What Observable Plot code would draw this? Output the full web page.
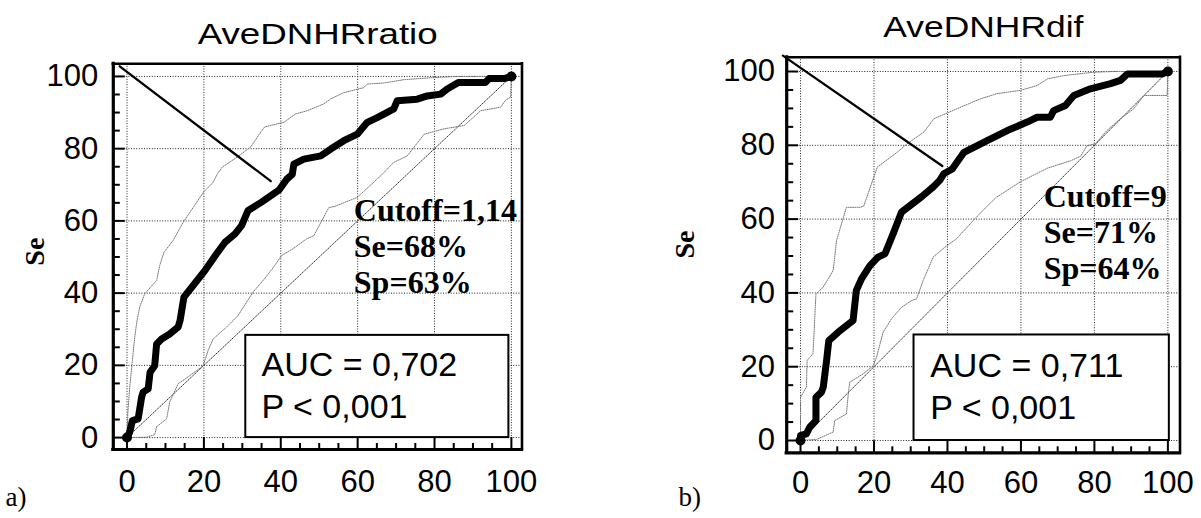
<!DOCTYPE html>
<html><head><meta charset="utf-8">
<script src="https://cdn.jsdelivr.net/npm/d3@7"></script>
<script src="https://cdn.jsdelivr.net/npm/@observablehq/plot@0.6"></script>
<style>
body{margin:0;background:#fff;}
#wrap{position:relative;width:1201px;height:518px;overflow:hidden;background:#fff;}
#wrap svg{position:absolute;top:0;overflow:visible;}
</style></head>
<body><div id="wrap"></div>
<script>
// ---------- data ----------
const titles = ["AveDNHRratio", "AveDNHRdif"];
const panelLetters = ["a)", "b)"];
const yAxisTitle = "Se";
const tickLabels = [0, 20, 40, 60, 80, 100];
const minorTicks = [5, 10, 15, 25, 30, 35, 45, 50, 55, 65, 70, 75, 85, 90, 95];
const cutoffText = [["Cutoff=1,14", "Se=68%", "Sp=63%"], ["Cutoff=9", "Se=71%", "Sp=64%"]];
const aucText = [["AUC = 0,702", "P < 0,001"], ["AUC = 0,711", "P < 0,001"]];
const diagX = [0, 100];
const diagY = [0, 100];

// panel a: ROC curve (100-Sp, Se)
const rocA_x = [0,0.7,1.4,2.9,3.8,4.2,5.5,6,7.2,7.7,9,11.1,13.3,13.8,14.8,17.2,20.3,23.3,25.5,28.1,29.8,31.5,35,39.6,41.6,43,43.4,46,50.4,53,56.4,59.9,62.5,65.1,69.4,70.3,75.5,78.1,81.6,83.3,86.2,93.2,94.2,98.1,100];
const rocA_y = [0,1.5,4.7,5.2,11.2,12.6,13.5,18.1,19.9,25.9,27.3,28.7,30.6,32.4,38.9,42.1,46.3,50.9,54.1,56.4,58.7,62.9,65.2,68.6,71.6,72.9,75.7,77.1,78,79.9,82.2,84,87.3,88.6,91,93.3,93.7,94.6,95.1,96.5,98.3,98.3,99.4,99.4,100];
const upA_x = [0,0.2,0.7,1.4,2,2.6,3.3,4.6,7.7,8.5,9.6,12,14.6,17.4,19.8,22.4,23.5,24.8,28.7,32.2,34.8,35.8,40.8,43.8,46.9,51.2,53,56.4,61.6,62.5,66.9,72,79.9,86,100];
const upA_y = [0,6.6,13.9,21.3,27.8,32.4,36.1,39.8,43.5,47.6,51.3,54.6,59.6,64,67.8,70.7,73,74.9,77.7,80.5,84.6,86,87.3,89.6,90.5,92.4,93.8,95.5,96.9,97.9,98.2,99.1,99.7,100,100];
const loA_x = [0,5.1,7.2,7.7,10.3,11.1,13.3,15.5,19.8,21.1,22.4,25.9,28.9,32.8,35.4,38,40.2,43.2,46.7,48.6,52.5,54,59.9,66,69.4,72.9,77.3,82.5,87.7,92,97.2,98.5,99.8,100];
const loA_y = [0,0.1,0.8,3,5.2,9.8,14.9,16.5,19.9,24.1,27.3,30.6,33.8,40.3,43.5,47,50.4,52.3,55,55.9,63.7,64,66.5,72.5,76.2,78,84,85.5,86.4,90.5,91.5,93.4,94.3,100];
const pointerA_x = [-1.9, 37.4];
const pointerA_y = [102.8, 71.0];

// panel b
const rocB_x = [0,0,1.6,2.5,4.2,4.2,5.7,6.2,7.1,7.7,10.3,14.3,15.2,16.6,18.9,21.1,23,25.2,27.5,33,36.1,37.9,39,41.3,44.5,50.8,56.3,61.7,64.4,68,68.9,72.1,74.4,78.9,84.4,87.1,88.5,89,98.4,100];
const rocB_y = [0,1.4,1.8,3.6,5.4,11.7,13.1,14.5,21.7,27.1,29.4,32.5,40.7,43.8,47.4,49.7,50.6,56,61.9,66.1,68.7,70.5,72.3,73.6,78.1,81.3,84,86.3,87.6,87.6,89.4,90.8,93.5,95.3,96.7,97.6,98.9,99.3,99.3,100];
const upB_x = [0,0,1.6,1.8,3.4,4.2,6.2,8.9,9.8,12.5,16.2,17.2,20.9,26.3,29,33.6,36.3,42.6,49,53.5,59.9,64.4,67.2,71.7,79.7,85,100];
const upB_y = [0,11.7,14.5,21.7,23.5,39.7,41.6,46.1,54.2,63.2,63.2,63.5,74.1,78.1,80.4,83.6,87.2,89.9,92.6,94,94.9,96.2,98,98.9,99.8,100,100];
const loB_x = [0,4.4,8.9,9.3,12.5,13,13.4,17.1,19.8,20.7,22.5,24.8,27.5,30.2,31.6,33.4,36.1,39.3,42.5,47,50.8,53.3,60,67.2,73.5,76.2,78,80.3,83.4,87.1,90.7,93.5,99.8,100];
const loB_y = [0,0.3,2.3,5.4,7.2,12.6,15.8,18.1,20.3,22.6,29.4,33,36.1,37.9,38.4,43.4,49.7,52.4,54.7,59.6,63.5,65.9,70.2,73.8,75.8,77,79.9,80.4,84,87.2,89.9,93.5,93.5,100];
const pointerB_x = [-4.8, 38.6];
const pointerB_y = [104.3, 74.4];

// ---------- drawing ----------
const zip = (xs, ys) => xs.map((x, i) => ({x, y: ys[i]}));
const SANS = "'Liberation Sans', Arial, sans-serif";
const SERIF = "'Liberation Serif', 'Times New Roman', serif";

function panel(p) {
  const [xmin, xmax] = p.xDomain, [ymin, ymax] = p.yDomain;
  const kx = (p.width - p.mL - p.mR) / (xmax - xmin);
  const ky = (p.height - p.mT - p.mB) / (ymax - ymin);
  const roc = zip(p.rocX, p.rocY);
  const grid = {stroke: "#222", strokeWidth: 1, strokeDasharray: "1,1.6"};
  const band = {x: "x", y: "y", stroke: "#777", strokeWidth: 1, strokeDasharray: "1,1.2"};
  const isMajor = d => d % 20 === 0;
  return Plot.plot({
    width: p.width, height: p.height,
    marginLeft: p.mL, marginRight: p.mR, marginTop: p.mT, marginBottom: p.mB,
    x: {domain: p.xDomain}, y: {domain: p.yDomain},
    style: {background: "transparent", color: "black", overflow: "visible"},
    marks: [
      Plot.ruleX(tickLabels, {x: d => d, ...grid}),
      Plot.ruleY(tickLabels, {y: d => d, ...grid}),
      Plot.line(zip(diagX, diagY), {x: "x", y: "y", stroke: "#333", strokeWidth: 1, strokeDasharray: "1,1.4"}),
      Plot.line(zip(p.upX, p.upY), band),
      Plot.line(zip(p.loX, p.loY), band),
      Plot.rect([p.box], {x1: "x1", x2: "x2", y1: "y1", y2: "y2", fill: "white", stroke: "black", strokeWidth: 2}),
      Plot.line(roc, {x: "x", y: "y", stroke: "black", strokeWidth: 7, strokeLinejoin: "round", strokeLinecap: "round"}),
      Plot.dot([roc[0], roc[roc.length - 1]], {x: "x", y: "y", r: 5, fill: "black"}),
      Plot.line(zip(p.ptrX, p.ptrY), {x: "x", y: "y", stroke: "black", strokeWidth: 2.3}),
      // frame
      Plot.ruleX([xmin], {x: d => d, strokeWidth: 3.2, strokeLinecap: "square"}),
      Plot.ruleY([ymin], {y: d => d, strokeWidth: 3.2, strokeLinecap: "square"}),
      Plot.ruleX([xmax], {x: d => d, strokeWidth: 2.6, strokeLinecap: "square"}),
      Plot.ruleY([ymax], {y: d => d, strokeWidth: 2.6, strokeLinecap: "square"}),
      // inward ticks
      Plot.ruleY(minorTicks.concat(tickLabels), {y: d => d, x1: () => xmin, x2: d => xmin + (isMajor(d) ? 12 : 7) / kx, strokeWidth: 2}),
      Plot.ruleX(minorTicks.concat(tickLabels), {x: d => d, y1: () => ymin, y2: d => ymin + (isMajor(d) ? 12 : 6) / ky, strokeWidth: 2}),
      // tick labels
      Plot.axisX(tickLabels, {tickSize: 0, tickPadding: p.xPad, fontSize: 31, fontFamily: SANS, label: null}),
      Plot.axisY(tickLabels, {tickSize: 0, tickPadding: p.yPad, fontSize: 31, fontFamily: SANS, label: null}),
      // texts
      Plot.text([p.title], {frameAnchor: "top", dy: -20, lineAnchor: "bottom", fontSize: 29, fontFamily: SANS}),
      Plot.text([yAxisTitle], {frameAnchor: "left", dx: p.seDx, dy: p.seDy, rotate: -90, fontSize: 28, fontWeight: "bold", fontFamily: SERIF}),
      Plot.text([p.letter], {frameAnchor: "bottom-left", dx: p.letDx, dy: p.letDy, textAnchor: "start", lineAnchor: "bottom", fontSize: 27, fontFamily: SERIF}),
      Plot.text([p.cutoff.join("\n")], {x: () => p.cutPos[0], y: () => p.cutPos[1], textAnchor: "start", lineAnchor: "bottom", lineHeight: 1.13, fontSize: 32, fontWeight: "bold", fontFamily: SERIF}),
      Plot.text([p.auc.join("\n")], {x: () => p.aucPos[0], y: () => p.aucPos[1], textAnchor: "start", lineAnchor: "bottom", lineHeight: 1.24, fontSize: 34, fontFamily: SANS})
    ]
  });
}

const wrap = document.getElementById("wrap");
const svgA = panel({
  width: 600, height: 518, mL: 112.8, mR: 78.5, mT: 63.3, mB: 69,
  xDomain: [-3.57, 102.76], yDomain: [-3.3, 103.5],
  rocX: rocA_x, rocY: rocA_y, upX: upA_x, upY: upA_y, loX: loA_x, loY: loA_y,
  ptrX: pointerA_x, ptrY: pointerA_y,
  box: {x1: 30.9, x2: 99.35, y1: 0, y2: 28.3},
  title: titles[0], letter: panelLetters[0], cutoff: cutoffText[0], auc: aucText[0],
  cutPos: [59.0, 39.9], aucPos: [35.0, 5.5],
  xPad: 20, yPad: 15, seDx: -78, seDy: 9, letDx: -107.8, letDy: 56
});
svgA.style.left = "0px";
const svgB = panel({
  width: 561, height: 518, mL: 146.2, mR: 21.5, mT: 56.8, mB: 65.7,
  xDomain: [-3.76, 103.3], yDomain: [-3.33, 103.85],
  rocX: rocB_x, rocY: rocB_y, upX: upB_x, upY: upB_y, loX: loB_x, loY: loB_y,
  ptrX: pointerB_x, ptrY: pointerB_y,
  box: {x1: 30.9, x2: 100.4, y1: 0, y2: 28.6},
  title: titles[1], letter: panelLetters[1], cutoff: cutoffText[1], auc: aucText[1],
  cutPos: [66.2, 43.8], aucPos: [35.3, 5.9],
  xPad: 18, yPad: 11.6, seDx: -101.5, seDy: 3.5, letDx: -108.2, letDy: 52.7
});
svgB.style.left = "640px";
wrap.appendChild(svgA);
wrap.appendChild(svgB);

// titles are drawn wider in the original: stretch glyphs and spacing to the measured width
[[svgA, titles[0], 240], [svgB, titles[1], 200]].forEach(([svg, t, w]) => {
  d3.select(svg).selectAll("text").filter(function () { return this.textContent === t; })
    .attr("textLength", w).attr("lengthAdjust", "spacingAndGlyphs");
});
</script>
</body></html>
